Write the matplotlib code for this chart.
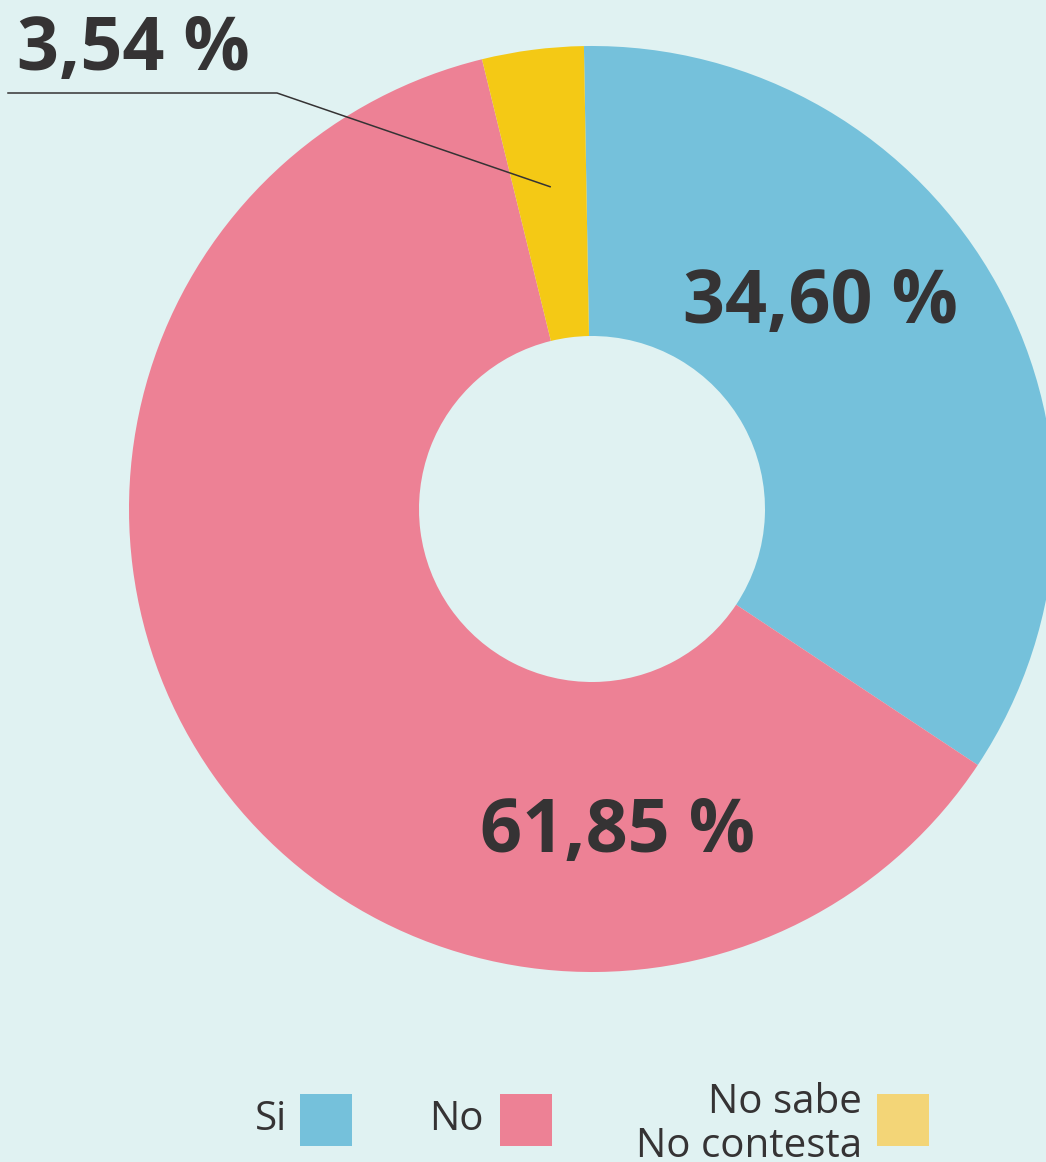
import numpy as np
import matplotlib
matplotlib.use('Agg')
import matplotlib.pyplot as plt
from matplotlib.patches import Rectangle

# data
labels = ['Si', 'No', 'No sabe\nNo contesta']
values = [34.60, 61.85, 3.54]
pct_text = ['34,60 %', '61,85 %', '3,54 %']

BG = '#e0f2f2'
C_SI = '#75c1db'
C_NO = '#ed8195'
C_NS = '#f4c915'
C_NS_LEG = '#f3d577'
TXT = '#353334'

plt.rcParams['font.family'] = ['Open Sans', 'DejaVu Sans']

W, H = 1046, 1162
fig = plt.figure(figsize=(W / 100, H / 100), dpi=100, facecolor=BG)
ax = fig.add_axes([0, 0, 1, 1])

cx, cy = 592, H - 509
R = 463
start = 91.0
wedges, _ = ax.pie(values, colors=[C_SI, C_NO, C_NS], startangle=start,
                   counterclock=False, radius=R, center=(cx, cy),
                   wedgeprops=dict(width=R - 173, linewidth=0), frame=True)
ax.set_xlim(0, W)
ax.set_ylim(0, H)
ax.set_aspect('equal')
ax.axis('off')

# percentage labels
ax.text(820, H - 304, pct_text[0], ha='center', va='center', fontsize=53,
        fontweight='bold', color=TXT)
ax.text(617, H - 833, pct_text[1], ha='center', va='center', fontsize=53,
        fontweight='bold', color=TXT)
ax.text(17, H - 51, pct_text[2], ha='left', va='center', fontsize=53,
        fontweight='bold', color=TXT)

# leader line to the small slice
mid = np.deg2rad(start - values[0] * 3.6 - values[1] * 3.6 - values[2] * 1.8)
ex, ey = cx + 325 * np.cos(mid), cy + 325 * np.sin(mid)
ax.plot([8, 277, ex], [H - 93, H - 93, ey], color=TXT, lw=1.1)

# legend
leg_x = [300, 500, 877]
leg_txt_x = [287, 484, 862]
leg_ty = [1120, 1120, 1125]
leg_cols = [C_SI, C_NO, C_NS_LEG]
for lx, tx, ty, col, lab in zip(leg_x, leg_txt_x, leg_ty, leg_cols, labels):
    ax.add_patch(Rectangle((lx, H - 1146), 52, 52, color=col, lw=0))
    ax.text(tx, H - ty, lab, ha='right', va='center', fontsize=29,
            color=TXT, linespacing=1.1)

fig.savefig('out.png', dpi=100, facecolor=BG)
